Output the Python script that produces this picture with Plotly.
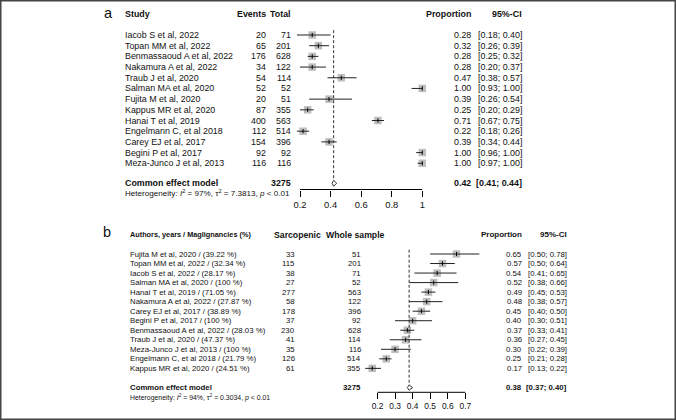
import plotly.graph_objects as go

# ---------------- data ----------------
studies_a = ["Iacob S et al, 2022", "Topan MM et al, 2022", "Benmassaoud A et al, 2022",
             "Nakamura A et al, 2022", "Traub J et al, 2020", "Salman MA et al, 2020",
             "Fujita M et al, 2020", "Kappus MR et al, 2020", "Hanai T et al, 2019",
             "Engelmann C, et al 2018", "Carey EJ et al, 2017", "Begini P et al, 2017",
             "Meza-Junco J et al, 2013"]
events_a = [20, 65, 176, 34, 54, 52, 20, 87, 400, 112, 154, 92, 116]
total_a = [71, 201, 628, 122, 114, 52, 51, 355, 563, 514, 396, 92, 116]
prop_a = [0.28, 0.32, 0.28, 0.28, 0.47, 1.00, 0.39, 0.25, 0.71, 0.22, 0.39, 1.00, 1.00]
lo_a = [0.18, 0.26, 0.25, 0.20, 0.38, 0.93, 0.26, 0.20, 0.67, 0.18, 0.34, 0.96, 0.97]
hi_a = [0.40, 0.39, 0.32, 0.37, 0.57, 1.00, 0.54, 0.29, 0.75, 0.26, 0.44, 1.00, 1.00]
common_a = dict(total=3275, est=0.42, lo=0.41, hi=0.44)
het_a = dict(i2="97%", tau2="7.3813", p="0.01")
ticks_a = [0.2, 0.4, 0.6, 0.8, 1.0]
ticktext_a = ["0.2", "0.4", "0.6", "0.8", "1"]

studies_b = ["Fujita M et al, 2020 / (39.22 %)", "Topan MM et al, 2022 / (32.34 %)",
             "Iacob S et al, 2022 / (28.17 %)", "Salman MA et al, 2020 / (100 %)",
             "Hanai T et al, 2019 / (71.05 %)", "Nakamura A et al, 2022 / (27.87 %)",
             "Carey EJ et al, 2017 / (38.89 %)", "Begini P et al, 2017 / (100 %)",
             "Benmassaoud A et al, 2022 / (28.03 %)", "Traub J et al, 2020 / (47.37 %)",
             "Meza-Junco J et al, 2013 / (100 %)", "Engelmann C, et al 2018 / (21.79 %)",
             "Kappus MR et al, 2020 / (24.51 %)"]
sarc_b = [33, 115, 38, 27, 277, 58, 178, 37, 230, 41, 35, 126, 61]
whole_b = [51, 201, 71, 52, 563, 122, 396, 92, 628, 114, 116, 514, 355]
prop_b = [0.65, 0.57, 0.54, 0.52, 0.49, 0.48, 0.45, 0.40, 0.37, 0.36, 0.30, 0.25, 0.17]
lo_b = [0.50, 0.50, 0.41, 0.38, 0.45, 0.38, 0.40, 0.30, 0.33, 0.27, 0.22, 0.21, 0.13]
hi_b = [0.78, 0.64, 0.65, 0.66, 0.53, 0.57, 0.50, 0.51, 0.41, 0.45, 0.39, 0.28, 0.22]
common_b = dict(total=3275, est=0.38, lo=0.37, hi=0.40)
het_b = dict(i2="94%", tau2="0.3034", p="0.01")
ticks_b = [0.2, 0.3, 0.4, 0.5, 0.6, 0.7]
ticktext_b = ["0.2", "0.3", "0.4", "0.5", "0.6", "0.7"]

# ---------------- layout constants (pixels) ----------------
W, H = 676, 420
FONT = "Liberation Sans, Arial, Helvetica, sans-serif"
SQ_COLOR = "#BEBEBE"

A = dict(row1=35.0, step=10.69, axis_y=189.5, top=4.0,
         x_lo=0.2, px_lo=300.0, x_hi=1.0, px_hi=422.3, rng=(0.1, 1.1),
         fs=8.9, fs_head=8.9, fs_h12=8.9, fs_hpc=8.9, fs_het=8.1, fs_tick=9.4, sq=7.5,
         col_name=124, col_c1=267, col_c2=292, col_prop=472, col_ci=523,
         head_c1=(267, "right"), head_c2=(292, "right"),
         label="a", label_x=103, label_y=13.0,
         common_row=14.87, het_y=193.5)
B = dict(row1=254.0, step=9.53, axis_y=392.3, top=222.0,
         x_lo=0.2, px_lo=377.5, x_hi=0.7, px_hi=465.3, rng=(0.1, 0.8),
         fs=7.8, fs_head=7.3, fs_h12=8.7, fs_hpc=8.0, fs_het=6.9, fs_tick=8.4, sq=7.5,
         col_name=129, col_c1=296, col_c2=362, col_prop=523, col_ci=568,
         head_c1=(273, "left"), head_c2=(325, "left"),
         label="b", label_x=102, label_y=231.5,
         common_row=15.02, het_y=397.0)


def row_at(P, y_px):
    return 1 + (y_px - P["row1"]) / P["step"]


def x_px(P, v):
    s = (P["px_hi"] - P["px_lo"]) / (P["x_hi"] - P["x_lo"])
    return P["px_lo"] + (v - P["x_lo"]) * s


fig = go.Figure()
annotations = []
shapes = []


def ann(text, xpx, yrow, yref, anchor, size, bold=False):
    if bold:
        text = "<b>" + text + "</b>"
    annotations.append(dict(text=text, x=xpx / W, xref="paper", y=yrow, yref=yref,
                            xanchor=anchor, yanchor="middle", showarrow=False,
                            borderpad=0, font=dict(family=FONT, size=size, color="#111")))


def panel(P, xname, yname, names, c1, c2, prop, lo, hi, common, het, ticks, ticktext,
          headers):
    xref = xname.replace("axis", "")
    yref = yname.replace("axis", "")
    rows = list(range(1, len(names) + 1))

    # squares
    fig.add_trace(go.Scatter(x=prop, y=rows, mode="markers", xaxis=xref, yaxis=yref,
                             marker=dict(symbol="square", size=P["sq"], color=SQ_COLOR,
                                         line=dict(width=0)),
                             hoverinfo="skip", cliponaxis=False))
    # CI lines + centre tick
    fig.add_trace(go.Scatter(x=prop, y=rows, mode="markers", xaxis=xref, yaxis=yref,
                             marker=dict(symbol="line-ns", size=3, color="black",
                                         line=dict(width=1, color="black")),
                             error_x=dict(type="data", symmetric=False,
                                          array=[h - p for p, h in zip(prop, hi)],
                                          arrayminus=[p - l for p, l in zip(prop, lo)],
                                          width=0, thickness=1, color="#222"),
                             hoverinfo="skip", cliponaxis=False))
    # diamond for common effect
    cr = P["common_row"]
    fig.add_trace(go.Scatter(x=[common["lo"], common["est"], common["hi"], common["est"], common["lo"]],
                             y=[cr, cr - 0.27, cr, cr + 0.27, cr], mode="lines", fill="toself",
                             fillcolor="white", line=dict(color="#333", width=1),
                             xaxis=xref, yaxis=yref, hoverinfo="skip"))
    # dashed reference line
    shapes.append(dict(type="line", xref=xref, yref=yref, x0=common["est"], x1=common["est"],
                       y0=0.55, y1=cr - 0.27, line=dict(color="#333", width=1, dash="3px,2px")))
    # axis baseline between extreme ticks
    shapes.append(dict(type="line", xref=xref, yref=yref + " domain", x0=ticks[0], x1=ticks[-1],
                       y0=0, y1=0, line=dict(color="black", width=1)))

    # text columns
    fs = P["fs"]
    for r, n, a, b, p, l, h in zip(rows, names, c1, c2, prop, lo, hi):
        ann(n, P["col_name"], r, yref, "left", fs)
        ann(str(a), P["col_c1"], r, yref, "right", fs)
        ann(str(b), P["col_c2"], r, yref, "right", fs)
        ann(f"{p:.2f}", P["col_prop"], r, yref, "right", fs)
        ann(f"[{l:.2f}; {h:.2f}]", P["col_ci"], r, yref, "right", fs)

    # headers
    hr = -1
    ann(headers[0], P["col_name"], hr, yref, "left", P["fs_head"], True)
    ann(headers[1], P["head_c1"][0], hr, yref, P["head_c1"][1], P["fs_h12"], True)
    ann(headers[2], P["head_c2"][0], hr, yref, P["head_c2"][1], P["fs_h12"], True)
    ann("Proportion", P["col_prop"], hr, yref, "right", P["fs_hpc"], True)
    ann("95%-CI", P["col_ci"], hr, yref, "right", P["fs_hpc"], True)
    # panel letter
    annotations.append(dict(text=P["label"], x=P["label_x"] / W, xref="paper",
                            y=1 - P["label_y"] / H, yref="paper", xanchor="left",
                            yanchor="middle", showarrow=False, borderpad=0,
                            font=dict(family=FONT, size=14.5, color="#111")))

    # common effect row
    ann("Common effect model", P["col_name"], cr, yref, "left", fs, True)
    ann(str(common["total"]), P["col_c2"], cr, yref, "right", fs, True)
    ann(f"{common['est']:.2f}", P["col_prop"], cr, yref, "right", fs, True)
    ann(f"[{common['lo']:.2f}; {common['hi']:.2f}]", P["col_ci"], cr, yref, "right", fs, True)
    # heterogeneity (below the axis baseline, so placed in paper coordinates)
    het_txt = (f"Heterogeneity: <i>I</i><sup>2</sup> = {het['i2']}, "
               f"\u03c4<sup>2</sup> = {het['tau2']}, <i>p</i> &lt; {het['p']}")
    ann(het_txt, P["col_name"], 1 - P["het_y"] / H, "paper", "left", P["fs_het"])

    # axes
    r0, r1 = P["rng"]
    dom_x = [x_px(P, r0) / W, x_px(P, r1) / W]
    dom_y = [1 - P["axis_y"] / H, 1 - P["top"] / H]
    fig.update_layout({
        xname: dict(domain=dom_x, range=[r0, r1], anchor=yref, showgrid=False, zeroline=False,
                    showline=False, ticks="outside", ticklen=6, tickwidth=1, tickcolor="black",
                    tickvals=ticks, ticktext=ticktext,
                    tickfont=dict(family=FONT, size=P["fs_tick"], color="#111"), fixedrange=True),
        yname: dict(domain=dom_y, range=[row_at(P, P["axis_y"]), row_at(P, P["top"])],
                    anchor=xref, visible=False, fixedrange=True),
    })


panel(A, "xaxis", "yaxis", studies_a, events_a, total_a, prop_a, lo_a, hi_a, common_a, het_a,
      ticks_a, ticktext_a, ["Study", "Events", "Total"])
panel(B, "xaxis2", "yaxis2", studies_b, sarc_b, whole_b, prop_b, lo_b, hi_b, common_b, het_b,
      ticks_b, ticktext_b, ["Authors, years / Maglignancies (%)", "Sarcopenic", "Whole sample"])

# frame around the whole picture
shapes.append(dict(type="rect", xref="paper", yref="paper", x0=0, x1=1, y0=0, y1=1,
                   line=dict(color="#444", width=3)))

fig.update_layout(width=W, height=H, margin=dict(l=0, r=0, t=0, b=0),
                  paper_bgcolor="white", plot_bgcolor="white", showlegend=False,
                  annotations=annotations, shapes=shapes,
                  font=dict(family=FONT, color="#111"))

fig.write_html("out.html", config={"displayModeBar": False},
               post_script="document.body.style.margin='0px';")
